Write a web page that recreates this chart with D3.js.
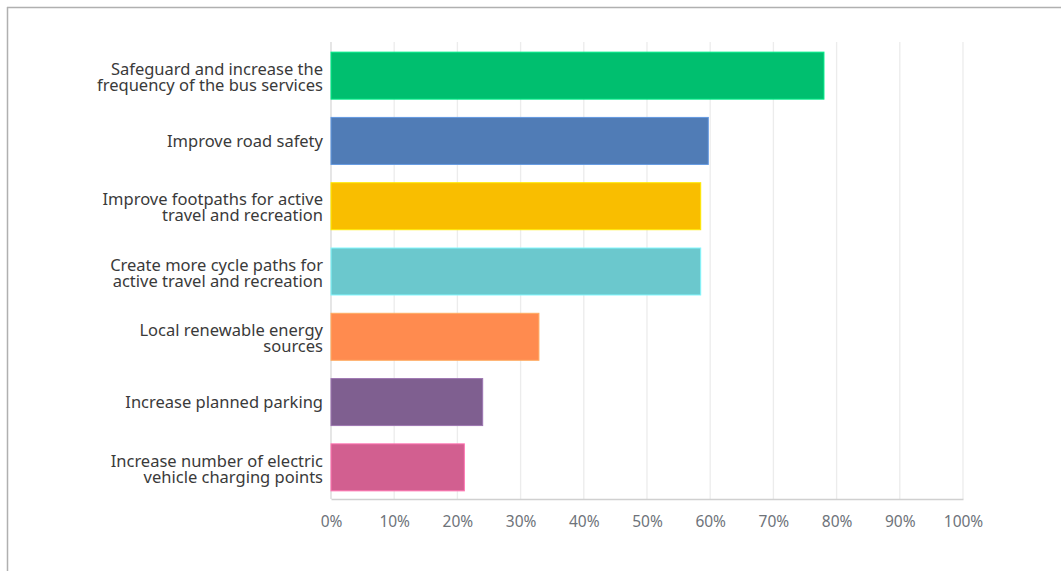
<!DOCTYPE html>
<html>
<head>
<meta charset="utf-8">
<script src="https://cdn.jsdelivr.net/npm/d3@7"></script>
<style>
  body { margin: 0; background: #fff; }
  svg { display: block; }
</style>
</head>
<body>
<svg width="1061" height="571"></svg>
<script>
const categories = [
  ["Safeguard and increase the", "frequency of the bus services"],
  ["Improve road safety"],
  ["Improve footpaths for active", "travel and recreation"],
  ["Create more cycle paths for", "active travel and recreation"],
  ["Local renewable energy", "sources"],
  ["Increase planned parking"],
  ["Increase number of electric", "vehicle charging points"]
];
const values = [0.78, 0.597, 0.585, 0.585, 0.329, 0.24, 0.211];
const colors = ["#00BF6F", "#507CB6", "#F9BE00", "#6BC8CD", "#FF8B4F", "#7F5F90", "#D25F90"];
const ticks = [0, 0.1, 0.2, 0.3, 0.4, 0.5, 0.6, 0.7, 0.8, 0.9, 1];

const svg = d3.select("svg");
const font = "'Noto Sans', sans-serif";

// outer frame (top and left edge visible)
svg.append("line").attr("x1", 7).attr("x2", 1061).attr("y1", 7.5).attr("y2", 7.5)
  .attr("stroke", "#b0b0b0").attr("stroke-width", 1.5);
svg.append("line").attr("x1", 7.5).attr("x2", 7.5).attr("y1", 7).attr("y2", 571)
  .attr("stroke", "#b0b0b0").attr("stroke-width", 1.5);

const x = d3.scaleLinear().domain([0, 1]).range([331, 963]);
const y = d3.scaleBand().domain(d3.range(categories.length)).range([43, 500]).paddingInner(0.28).paddingOuter(0.14);

// gridlines
svg.append("g").selectAll("line")
  .data(ticks)
  .join("line")
  .attr("x1", d => x(d)).attr("x2", d => x(d))
  .attr("y1", 42).attr("y2", 499)
  .attr("stroke", d => d === 0 ? "#d8d8d8" : "#ececec")
  .attr("stroke-width", 1.3);

// bottom axis
const axis = svg.append("g").attr("transform", "translate(0,499)")
  .call(d3.axisBottom(x).tickValues(ticks).tickFormat(d3.format(".0%")).tickSize(0).tickPadding(17));
axis.select(".domain").attr("stroke", "#d0d0d0").attr("stroke-width", 1.5);
axis.selectAll("text").attr("fill", "#6e737a").style("font-family", font).style("font-size", "15.5px");

// bars
svg.append("g").selectAll("rect")
  .data(values)
  .join("rect")
  .attr("x", x(0))
  .attr("y", (d, i) => y(i))
  .attr("width", d => x(d) - x(0))
  .attr("height", y.bandwidth())
  .attr("fill", (d, i) => colors[i])
  .attr("stroke", (d, i) => d3.color(colors[i]).brighter(0.6))
  .attr("stroke-width", 1);

// category labels
const labels = svg.append("g").selectAll("text")
  .data(categories)
  .join("text")
  .attr("text-anchor", "end")
  .attr("fill", "#3a3a3a")
  .style("font-family", font)
  .style("font-size", "16.5px")
  .attr("transform", (d, i) => `translate(323,${y(i) + y.bandwidth() / 2 + (d.length > 1 ? 1.5 : 0)})`);

labels.selectAll("tspan")
  .data(d => d.map((t, j) => ({ t, j, n: d.length })))
  .join("tspan")
  .attr("x", 0)
  .attr("y", d => (d.j - (d.n - 1) / 2) * 16)
  .attr("dy", "0.35em")
  .text(d => d.t);
</script>
</body>
</html>
